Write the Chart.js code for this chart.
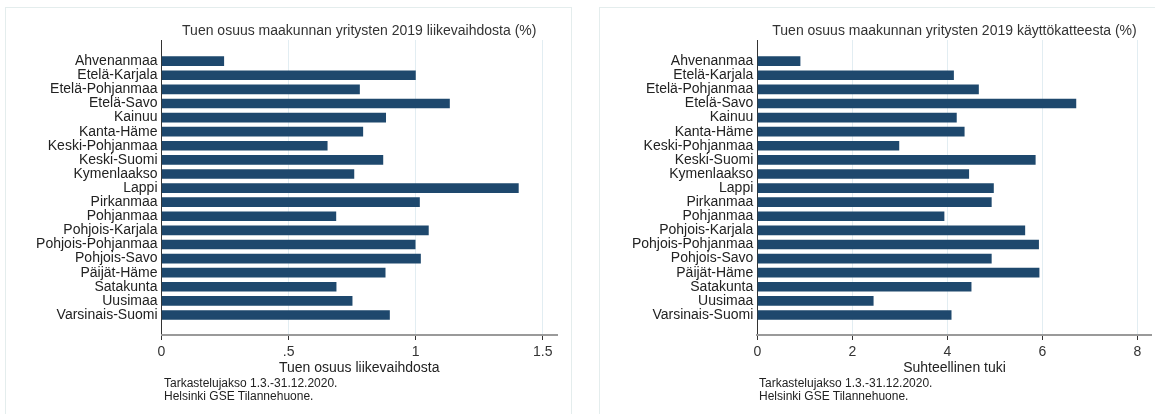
<!DOCTYPE html>
<html>
<head>
<meta charset="utf-8">
<script src="https://cdn.jsdelivr.net/npm/chart.js@4.4.0/dist/chart.umd.min.js"></script>
<style>
    body { margin: 0; background: #fff; width: 1155px; height: 414px; overflow: hidden; position: relative;
           font-family: "Liberation Sans", Arial, sans-serif; }
    .panel { position: absolute; top: 7px; height: 430px; border: 1px solid #e4eded; box-sizing: border-box; }
    #p1 { left: 5px; width: 567px; }
    #p2 { left: 599px; width: 580px; }
    canvas { position: absolute; }
    .note { position: absolute; top: 377px; font-size: 12px; line-height: 12.5px; color: #222; white-space: nowrap; }
</style>
</head>
<body>
<div class="panel" id="p1"></div>
<div class="panel" id="p2"></div>
<canvas id="chart1" width="565" height="406" style="left:6px;top:8px"></canvas>
<canvas id="chart2" width="555" height="406" style="left:600px;top:8px"></canvas>
<div class="note" style="left:164px">Tarkastelujakso 1.3.-31.12.2020.<br>Helsinki GSE Tilannehuone.</div>
<div class="note" style="left:759px">Tarkastelujakso 1.3.-31.12.2020.<br>Helsinki GSE Tilannehuone.</div>
<script>
// maakunnat
const regions = ['Ahvenanmaa', 'Etelä-Karjala', 'Etelä-Pohjanmaa', 'Etelä-Savo', 'Kainuu', 'Kanta-Häme',
    'Keski-Pohjanmaa', 'Keski-Suomi', 'Kymenlaakso', 'Lappi', 'Pirkanmaa', 'Pohjanmaa', 'Pohjois-Karjala',
    'Pohjois-Pohjanmaa', 'Pohjois-Savo', 'Päijät-Häme', 'Satakunta', 'Uusimaa', 'Varsinais-Suomi'];

// tuen osuus liikevaihdosta (%)
const turnoverShare = [0.245, 0.999, 0.779, 1.133, 0.882, 0.792, 0.652, 0.871, 0.757, 1.404,
    1.015, 0.686, 1.05, 0.998, 1.019, 0.88, 0.687, 0.75, 0.897];

// tuen osuus käyttökatteesta (%)
const relativeSupport = [0.90, 4.13, 4.655, 6.705, 4.19, 4.355, 2.98, 5.85, 4.45, 4.97,
    4.925, 3.93, 5.63, 5.92, 4.925, 5.93, 4.50, 2.44, 4.08];

const turnoverTicks = [0, 0.5, 1, 1.5];
const turnoverTickLabels = ['0', '.5', '1', '1.5'];
const supportTicks = [0, 2, 4, 6, 8];
const supportTickLabels = ['0', '2', '4', '6', '8'];

const FONT = '"Liberation Sans", Arial, sans-serif';
const BAR = '#1e486d';

const makeChart = (id, values, cfg) => {
    var ctx = document.getElementById(id);
    return new Chart(ctx, {
        type: 'bar',
        data: {
            datasets: [{
                data: values.map((v, i) => ({ x: v, y: i })),
                backgroundColor: BAR,
                borderColor: BAR,
                borderWidth: 0,
                barThickness: 9
            }]
        },
        options: {
            indexAxis: 'y',
            responsive: false,
            animation: false,
            layout: { padding: { left: 0, right: cfg.padRight, top: 0, bottom: 37 } },
            plugins: { legend: { display: false }, tooltip: { enabled: false } },
            scales: {
                y: {
                    type: 'linear',
                    reverse: true,
                    offset: false,
                    min: -1.5,
                    max: 19.42,
                    afterBuildTicks: scale => { scale.ticks = regions.map((r, i) => ({ value: i })); },
                    afterFit: scale => { scale.width = cfg.yWidth; },
                    grid: { display: false, drawTicks: false, offset: false },
                    border: { display: true, color: '#333', width: 1 },
                    ticks: {
                        autoSkip: false,
                        padding: 4,
                        color: '#222',
                        font: { family: FONT, size: 14 },
                        callback: v => regions[v]
                    }
                },
                x: {
                    type: 'linear',
                    position: 'bottom',
                    min: 0,
                    max: cfg.max,
                    afterBuildTicks: scale => { scale.ticks = cfg.ticks.map(t => ({ value: t })); },
                    afterFit: scale => { scale.height = 42; },
                    grid: { color: '#e2edf2', tickColor: '#333', tickLength: 5, lineWidth: 1 },
                    border: { display: true, color: '#9a9a9a', width: 2 },
                    ticks: {
                        autoSkip: false,
                        maxRotation: 0,
                        padding: 4,
                        color: '#333',
                        font: { family: FONT, size: 14 },
                        callback: (v, i) => cfg.tickLabels[i]
                    },
                    title: {
                        display: true,
                        text: cfg.axisTitle,
                        color: '#222',
                        padding: { top: 0, bottom: 0 },
                        font: { family: FONT, size: 14 }
                    }
                },
                top: {
                    type: 'linear',
                    position: 'top',
                    axis: 'x',
                    afterFit: scale => { scale.height = 32; },
                    grid: { display: false, drawTicks: false },
                    border: { display: false },
                    ticks: { display: false },
                    title: {
                        display: true,
                        text: cfg.title,
                        color: '#333',
                        padding: { top: 15, bottom: 0 },
                        font: { family: FONT, size: 14 }
                    }
                }
            }
        }
    });
};

makeChart('chart1', turnoverShare, {
    yWidth: 155.5, padRight: 14, max: 1.556,
    ticks: turnoverTicks, tickLabels: turnoverTickLabels,
    title: 'Tuen osuus maakunnan yritysten 2019 liikevaihdosta (%)',
    axisTitle: 'Tuen osuus liikevaihdosta'
});

makeChart('chart2', relativeSupport, {
    yWidth: 157.3, padRight: 3.3, max: 8.3,
    ticks: supportTicks, tickLabels: supportTickLabels,
    title: 'Tuen osuus maakunnan yritysten 2019 käyttökatteesta (%)',
    axisTitle: 'Suhteellinen tuki'
});
</script>
</body>
</html>
